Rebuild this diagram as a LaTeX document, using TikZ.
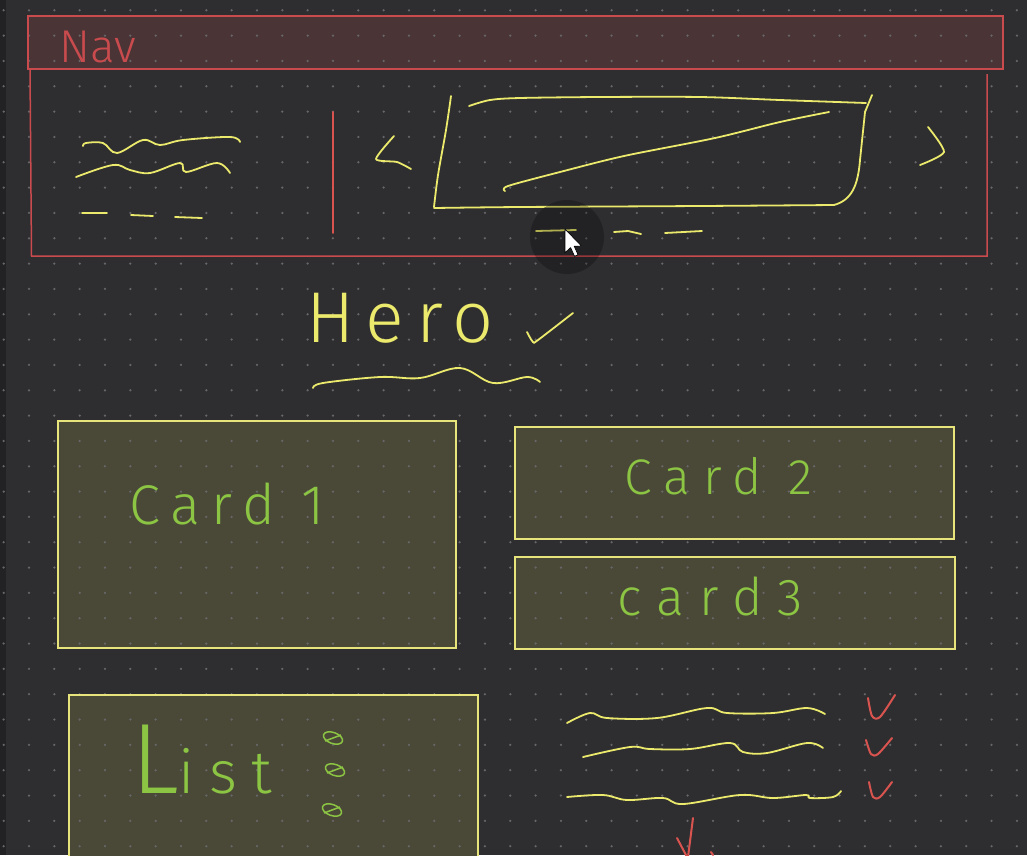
\documentclass[tikz,border=0pt]{standalone}
\usepackage{fontspec}
\newfontfamily\hand{Fira Sans Light}
\definecolor{bg}{HTML}{2E2E31}
\definecolor{strip}{HTML}{222224}
\definecolor{dotc}{HTML}{67676A}
\definecolor{navred}{HTML}{C94B4D}
\definecolor{navfill}{HTML}{4A3436}
\definecolor{hy}{HTML}{ECEA6C}
\definecolor{cardfill}{HTML}{4A4937}
\definecolor{cardline}{HTML}{E6E47A}
\definecolor{hgreen}{HTML}{8CC443}
\definecolor{hred}{HTML}{D9534F}
\tikzset{
  scribble/.style={draw=hy, line width=1.8pt, line cap=round, line join=round},
  redpen/.style={draw=hred, line width=2pt, line cap=round, line join=round},
  greenpen/.style={draw=hgreen, line width=1.5pt},
  cardbox/.style={draw=cardline, line width=1.5pt},
  navbox/.style={draw=navred, line width=1.5pt},
  handtxt/.style={inner sep=0pt, anchor=base west},
}
\begin{document}
\begin{tikzpicture}[x=1pt,y=-1pt]
\useasboundingbox (0,0) rectangle (1027,855);
\clip (0,0) rectangle (1027,855);
% background
\fill[bg] (0,0) rectangle (1027,855);
\fill[strip] (0,0) rectangle (6,855);
% fills
\fill[navfill] (28,16) rectangle (1003,69);
\fill[cardfill] (58,421) rectangle (456,648);
\fill[cardfill] (515,427) rectangle (954,539);
\fill[cardfill] (515,557) rectangle (955,649);
\fill[cardfill] (69,695) rectangle (478,870);
% dot grid
\foreach \i in {0,...,40}{
  \foreach \j in {0,...,33}{
    \fill[dotc] ({3.67+25.33*\i},{10.3+25.33*\j}) circle (1.25);
  }
}
% nav and hero frames
\draw[navbox] (28,16) rectangle (1003,69);
\draw[navbox] (30,69) -- (31.5,256) -- (987,256) -- (987,74);
\draw[redpen, line width=1.6pt] (333,112) -- (333,233);
% left text scribbles
\draw[scribble] plot[smooth, tension=0.6] coordinates {(83,146) (86,143) (103,143) (117,153) (143,140) (160,145) (183,140) (230,137) (240,142)};
\draw[scribble] plot[smooth, tension=0.6] coordinates {(76,177) (113,165) (130,170) (150,173) (180,163) (186,172) (217,163) (230,173)};
\draw[scribble] (82,213) -- (107,213);
\draw[scribble] (131,215) -- (153,216);
\draw[scribble] (175,217) -- (202,218);
% slider arrows
\draw[scribble] plot[smooth, tension=0.4] coordinates {(394,136) (376,159) (397,162) (411,169)};
\draw[scribble] plot[smooth, tension=0.4] coordinates {(928,127) (944,152) (920,165)};
% image placeholder
\draw[scribble] plot[smooth, tension=0.5] coordinates {(451,96) (446,130) (438,175) (434,207)};
\draw[scribble] plot[smooth, tension=0.5] coordinates {(434,208) (520,207) (700,206) (834,205)};
\draw[scribble] (834,205) .. controls (852,200) and (858,185) .. (860,160) -- (865,112) -- (872,95);
\draw[scribble] plot[smooth, tension=0.5] coordinates {(469,106) (490,100) (520,98) (600,97) (700,97) (780,100) (866,103)};
\draw[scribble] plot[smooth, tension=0.5] coordinates {(505,191) (508,186) (560,172) (624,156) (715,138) (780,122) (829,112)};
\draw[scribble] (536,231) -- (576,230);
\draw[scribble] (614,232) -- (628,231) -- (641,234);
\draw[scribble] (665,233) -- (702,231);
% Nav text
\node[handtxt, text=navred, font=\hand\fontsize{46}{46}\selectfont] (navt) at (59,62) {Nav};
% Hero
\node[handtxt, text=hy, font=\hand\fontsize{72}{72}\selectfont] (herot) at (306,342) {\addfontfeature{LetterSpace=16}Hero};
\draw[scribble] plot[smooth, tension=0.5] coordinates {(527,332) (533,342) (538,340) (573,313)};
\draw[scribble] plot[smooth, tension=0.6] coordinates {(313,388) (323,383) (380,377) (420,378) (460,368) (493,383) (527,377) (540,382)};
% cards
\draw[cardbox] (58,421) rectangle (456,648);
\draw[cardbox] (515,427) rectangle (954,539);
\draw[cardbox] (515,557) rectangle (955,649);
\draw[cardbox] (69,695) rectangle (478,870);
\node[handtxt, text=hgreen, font=\hand\fontsize{56}{56}\selectfont] (card1) at (129,524) {\addfontfeature{LetterSpace=20}Card 1};
\node[handtxt, text=hgreen, font=\hand\fontsize{50}{50}\selectfont] (card2) at (624,494) {\addfontfeature{LetterSpace=25}Card 2};
\node[handtxt, text=hgreen, font=\hand\fontsize{52}{52}\selectfont] (card3) at (617,615) {\addfontfeature{LetterSpace=29}card3};
\node[handtxt, text=hgreen, font=\hand\fontsize{60}{60}\selectfont] (listt) at (131,793) {\addfontfeature{LetterSpace=24}{\fontsize{100}{100}\selectfont L}ist};
% bullets
\foreach \cx/\cy/\n in {333/738/a, 335/770/b, 332/810/c}{
  \draw[greenpen, rotate around={-20:(\cx,\cy)}] (\cx,\cy) ellipse (10 and 5.5);
  \draw[greenpen] (\cx-8,\cy+3) -- (\cx+8,\cy-3);
}
% right list lines
\draw[scribble] plot[smooth, tension=0.6] coordinates {(567,723) (590,713) (607,718) (657,718) (707,708) (727,713) (773,713) (807,708) (825,714)};
\draw[scribble] plot[smooth, tension=0.6] coordinates {(583,757) (630,747) (650,749) (690,749) (730,743) (743,752) (767,753) (807,743) (823,748)};
\draw[scribble] plot[smooth, tension=0.6] coordinates {(567,797) (603,795) (627,800) (663,798) (683,804) (740,795) (773,798) (806,795) (810,798) (833,797) (841,791)};
% red checks
\draw[redpen] plot[smooth, tension=0.5] coordinates {(868,698) (872,716) (880,717) (895,695)};
\draw[redpen] plot[smooth, tension=0.5] coordinates {(866,740) (871,754) (878,754) (892,738)};
\draw[redpen] plot[smooth, tension=0.5] coordinates {(869,782) (873,797) (880,797) (892,782)};
\draw[redpen] (677,838) -- (687,857);
\draw[redpen] (693,818) -- (688,857);
\draw[redpen] (711,852) -- (713,855);
% cursor with halo
\fill[black, opacity=0.25] (567,237) circle (37);
\filldraw[fill=white, draw=black, line width=0.7pt, line join=round, shift={(565,229)}, scale=1.4]
  (0,0) -- (0,17) -- (4,13.3) -- (6.8,19.5) -- (9.3,18.4) -- (6.6,12.3) -- (11.8,12.2) -- cycle;
\end{tikzpicture}
\end{document}
